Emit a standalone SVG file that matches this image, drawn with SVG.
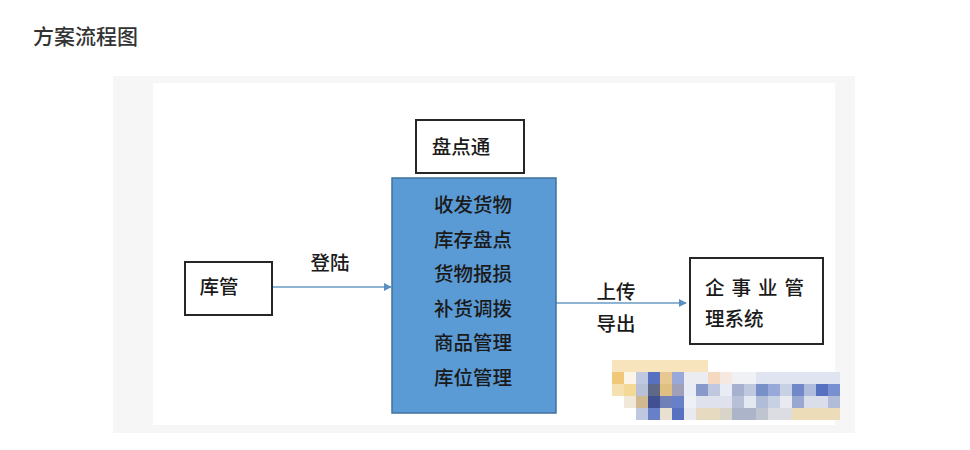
<svg xmlns="http://www.w3.org/2000/svg" width="970" height="450" viewBox="0 0 970 450">
<style>
.t{font-family:"Noto Sans CJK SC","Noto Sans CJK JP",sans-serif;font-size:19.5px;font-weight:500;fill:#1a1a1a;}
.box{fill:#ffffff;stroke:#262626;stroke-width:2;}
.edge{stroke:#6a9ac4;stroke-width:1.5;fill:none;}
</style>
<defs>
<marker id="arr" viewBox="0 0 10 10" refX="9" refY="5" markerWidth="8" markerHeight="8" markerUnits="userSpaceOnUse" orient="auto">
<path d="M0,0 L10,5 L0,10 z" fill="#5b8fc2"/>
</marker>
</defs>
<rect width="970" height="450" fill="#ffffff"/>
<text x="33" y="44" style="font-family:'Noto Sans CJK SC',serif;font-size:21px;font-weight:500;fill:#333;">方案流程图</text>
<rect x="113" y="76" width="742" height="357" fill="#f6f6f6"/>
<rect x="153" y="83" width="682" height="342" fill="#ffffff"/>

<g id="connectors">
<line class="edge" x1="272" y1="287" x2="391" y2="287" marker-end="url(#arr)"/>
<text class="t" x="330" y="270" text-anchor="middle">登陆</text>
<line class="edge" x1="556" y1="303" x2="686" y2="303" marker-end="url(#arr)"/>
<text class="t" x="616" y="299" text-anchor="middle">上传</text>
<text class="t" x="616" y="331" text-anchor="middle">导出</text>
</g>

<g id="node-kuguan">
<rect class="box" x="185" y="262" width="87" height="53"/>
<text class="t" x="219" y="294" text-anchor="middle">库管</text>
</g>

<g id="node-pandiantong">
<rect class="box" x="416" y="120" width="108" height="53"/>
<text class="t" x="461" y="154" text-anchor="middle">盘点通</text>
</g>

<g id="node-functions">
<rect x="392" y="178" width="164" height="235" fill="#5b9bd5" stroke="#41719c" stroke-width="1.5"/>
<text class="t" x="473" y="212" text-anchor="middle">收发货物</text>
<text class="t" x="473" y="246.5" text-anchor="middle">库存盘点</text>
<text class="t" x="473" y="281" text-anchor="middle">货物报损</text>
<text class="t" x="473" y="315.5" text-anchor="middle">补货调拨</text>
<text class="t" x="473" y="350" text-anchor="middle">商品管理</text>
<text class="t" x="473" y="384.5" text-anchor="middle">库位管理</text>
</g>

<g id="node-erp">
<rect class="box" x="690" y="258" width="133" height="86"/>
<text class="t" x="705" y="295" letter-spacing="7">企事业管</text>
<text class="t" x="705" y="326">理系统</text>
</g>

<g id="watermark">
<rect x="612" y="360" width="96" height="12" fill="#f7e4bc"/>
<rect x="612" y="372" width="12" height="12" fill="#f0c878"/>
<rect x="624" y="372" width="12" height="12" fill="#fbf4e8"/>
<rect x="636" y="372" width="12" height="12" fill="#c0c8e0"/>
<rect x="648" y="372" width="12" height="12" fill="#5870c0"/>
<rect x="660" y="372" width="12" height="12" fill="#e8c890"/>
<rect x="672" y="372" width="12" height="12" fill="#98a8d8"/>
<rect x="684" y="372" width="24" height="12" fill="#eaecf2"/>
<rect x="708" y="372" width="12" height="12" fill="#f5d8c0"/>
<rect x="720" y="372" width="12" height="12" fill="#f4e8e0"/>
<rect x="732" y="372" width="24" height="12" fill="#eff1f5"/>
<rect x="756" y="372" width="84" height="12" fill="#e0e4f0"/>
<rect x="612" y="384" width="12" height="12" fill="#f5e0b0"/>
<rect x="624" y="384" width="12" height="12" fill="#f3d898"/>
<rect x="636" y="384" width="12" height="12" fill="#b8c0d8"/>
<rect x="648" y="384" width="12" height="12" fill="#606888"/>
<rect x="660" y="384" width="12" height="12" fill="#e0c080"/>
<rect x="672" y="384" width="12" height="12" fill="#a0a0b8"/>
<rect x="684" y="384" width="12" height="12" fill="#e8ecf4"/>
<rect x="696" y="384" width="12" height="12" fill="#8898c8"/>
<rect x="708" y="384" width="12" height="12" fill="#c0c8e0"/>
<rect x="720" y="384" width="12" height="12" fill="#e8ecf4"/>
<rect x="732" y="384" width="12" height="12" fill="#a8b0d0"/>
<rect x="744" y="384" width="12" height="12" fill="#c0c8e0"/>
<rect x="756" y="384" width="12" height="12" fill="#7890c8"/>
<rect x="768" y="384" width="12" height="12" fill="#98a8d8"/>
<rect x="780" y="384" width="12" height="12" fill="#c8d0e4"/>
<rect x="792" y="384" width="12" height="12" fill="#7088c8"/>
<rect x="804" y="384" width="12" height="12" fill="#b0bcdc"/>
<rect x="816" y="384" width="12" height="12" fill="#5870c0"/>
<rect x="828" y="384" width="12" height="12" fill="#7890d0"/>
<rect x="624" y="396" width="12" height="12" fill="#f0e8d8"/>
<rect x="636" y="396" width="12" height="12" fill="#d0b890"/>
<rect x="648" y="396" width="12" height="12" fill="#405090"/>
<rect x="660" y="396" width="12" height="12" fill="#7080b8"/>
<rect x="672" y="396" width="12" height="12" fill="#6880c8"/>
<rect x="684" y="396" width="12" height="12" fill="#eef0f6"/>
<rect x="696" y="396" width="36" height="12" fill="#dfe2ec"/>
<rect x="732" y="396" width="12" height="12" fill="#b8c0d8"/>
<rect x="744" y="396" width="12" height="12" fill="#e4e8f0"/>
<rect x="756" y="396" width="12" height="12" fill="#b0bcd8"/>
<rect x="768" y="396" width="12" height="12" fill="#c8d0e4"/>
<rect x="780" y="396" width="12" height="12" fill="#e8eaf0"/>
<rect x="792" y="396" width="12" height="12" fill="#98a8d0"/>
<rect x="804" y="396" width="24" height="12" fill="#dadeea"/>
<rect x="828" y="396" width="12" height="12" fill="#b0bcd8"/>
<rect x="636" y="408" width="12" height="12" fill="#c0c8e0"/>
<rect x="648" y="408" width="12" height="12" fill="#6880c8"/>
<rect x="660" y="408" width="12" height="12" fill="#e8e0d0"/>
<rect x="672" y="408" width="12" height="12" fill="#5870c0"/>
<rect x="684" y="408" width="12" height="12" fill="#e8eaf0"/>
<rect x="696" y="408" width="24" height="12" fill="#e6dac0"/>
<rect x="720" y="408" width="12" height="12" fill="#d8d4c8"/>
<rect x="732" y="408" width="24" height="12" fill="#acb4ca"/>
<rect x="756" y="408" width="12" height="12" fill="#c0c4d0"/>
<rect x="768" y="408" width="24" height="12" fill="#dcdde2"/>
<rect x="792" y="408" width="48" height="12" fill="#ecdcb8"/>
</g>
</svg>
